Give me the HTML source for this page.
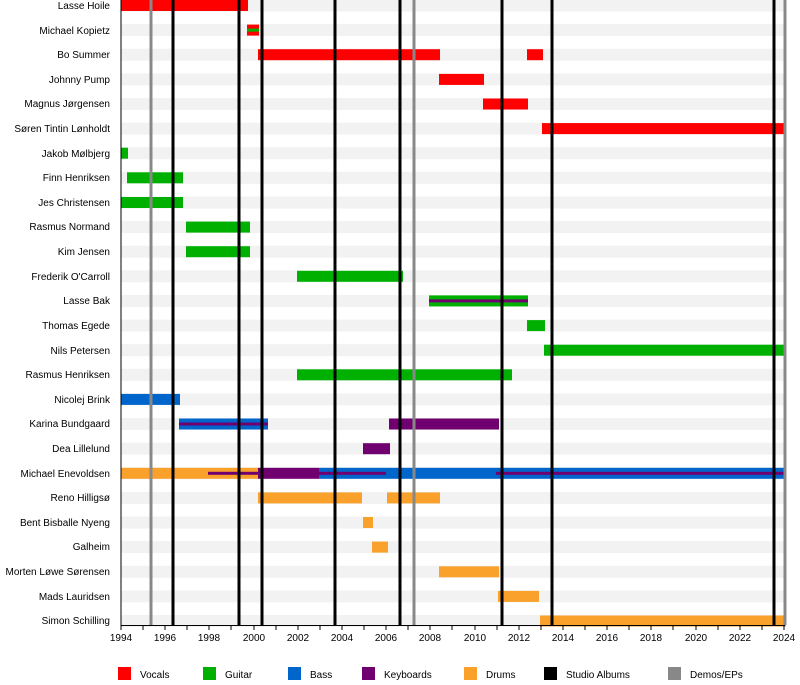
<!DOCTYPE html>
<html><head><meta charset="utf-8"><style>body{margin:0;background:#fff}svg{display:block;font-family:"Liberation Sans",sans-serif}</style></head><body>
<svg width="800" height="685" xmlns="http://www.w3.org/2000/svg">
<g fill="#f2f2f2">
<rect x="121" y="-0.5" width="665" height="12"/><rect x="121" y="24.1" width="665" height="12"/><rect x="121" y="48.7" width="665" height="12"/><rect x="121" y="73.4" width="665" height="12"/><rect x="121" y="98" width="665" height="12"/><rect x="121" y="122.6" width="665" height="12"/><rect x="121" y="147.2" width="665" height="12"/><rect x="121" y="171.8" width="665" height="12"/><rect x="121" y="196.5" width="665" height="12"/><rect x="121" y="221.1" width="665" height="12"/><rect x="121" y="245.7" width="665" height="12"/><rect x="121" y="270.3" width="665" height="12"/><rect x="121" y="294.9" width="665" height="12"/><rect x="121" y="319.6" width="665" height="12"/><rect x="121" y="344.2" width="665" height="12"/><rect x="121" y="368.8" width="665" height="12"/><rect x="121" y="393.4" width="665" height="12"/><rect x="121" y="418" width="665" height="12"/><rect x="121" y="442.7" width="665" height="12"/><rect x="121" y="467.3" width="665" height="12"/><rect x="121" y="491.9" width="665" height="12"/><rect x="121" y="516.5" width="665" height="12"/><rect x="121" y="541.1" width="665" height="12"/><rect x="121" y="565.8" width="665" height="12"/><rect x="121" y="590.4" width="665" height="12"/><rect x="121" y="615" width="665" height="12"/>
</g>
<g font-size="10" fill="#000" text-anchor="end">
<text x="110" y="9">Lasse Hoile</text><text x="110" y="34">Michael Kopietz</text><text x="110" y="58">Bo Summer</text><text x="110" y="83">Johnny Pump</text><text x="110" y="107">Magnus Jørgensen</text><text x="110" y="132">Søren Tintin Lønholdt</text><text x="110" y="157">Jakob Mølbjerg</text><text x="110" y="181">Finn Henriksen</text><text x="110" y="206">Jes Christensen</text><text x="110" y="230">Rasmus Normand</text><text x="110" y="255">Kim Jensen</text><text x="110" y="280">Frederik O'Carroll</text><text x="110" y="304">Lasse Bak</text><text x="110" y="329">Thomas Egede</text><text x="110" y="354">Nils Petersen</text><text x="110" y="378">Rasmus Henriksen</text><text x="110" y="403">Nicolej Brink</text><text x="110" y="427">Karina Bundgaard</text><text x="110" y="452">Dea Lillelund</text><text x="110" y="477">Michael Enevoldsen</text><text x="110" y="501">Reno Hilligsø</text><text x="110" y="526">Bent Bisballe Nyeng</text><text x="110" y="550">Galheim</text><text x="110" y="575">Morten Løwe Sørensen</text><text x="110" y="600">Mads Lauridsen</text><text x="110" y="624">Simon Schilling</text>
</g>
<g>
<rect x="121" y="0" width="127" height="11" fill="#f00"/>
<rect x="247" y="24.6" width="12" height="11" fill="#f00"/><rect x="247" y="28.6" width="12" height="3" fill="#00b000"/>
<rect x="258" y="49.2" width="182" height="11" fill="#f00"/><rect x="527" y="49.2" width="16" height="11" fill="#f00"/>
<rect x="439" y="73.9" width="45" height="11" fill="#f00"/>
<rect x="483" y="98.5" width="45" height="11" fill="#f00"/>
<rect x="542" y="123.1" width="244" height="11" fill="#f00"/>
<rect x="121" y="147.7" width="7" height="11" fill="#00b000"/>
<rect x="127" y="172.3" width="56" height="11" fill="#00b000"/>
<rect x="121" y="197" width="62" height="11" fill="#00b000"/>
<rect x="186" y="221.6" width="64" height="11" fill="#00b000"/>
<rect x="186" y="246.2" width="64" height="11" fill="#00b000"/>
<rect x="297" y="270.8" width="106" height="11" fill="#00b000"/>
<rect x="429" y="295.4" width="99" height="11" fill="#00b000"/><rect x="429" y="299.4" width="99" height="3" fill="#700070"/>
<rect x="527" y="320.1" width="18" height="11" fill="#00b000"/>
<rect x="544" y="344.7" width="242" height="11" fill="#00b000"/>
<rect x="297" y="369.3" width="215" height="11" fill="#00b000"/>
<rect x="121" y="393.9" width="59" height="11" fill="#0066cc"/>
<rect x="179" y="418.5" width="89" height="11" fill="#0066cc"/><rect x="179" y="422.5" width="89" height="3" fill="#700070"/>
<rect x="389" y="418.5" width="110" height="11" fill="#700070"/>
<rect x="363" y="443.2" width="27" height="11" fill="#700070"/>
<rect x="121" y="467.8" width="137" height="11" fill="#f9a12a"/><rect x="208" y="471.8" width="50" height="3" fill="#700070"/>
<rect x="258" y="467.8" width="61" height="11" fill="#700070"/>
<rect x="319" y="467.8" width="467" height="11" fill="#0066cc"/><rect x="319" y="471.8" width="67" height="3" fill="#700070"/><rect x="496" y="471.8" width="290" height="3" fill="#700070"/>
<rect x="258" y="492.4" width="104" height="11" fill="#f9a12a"/><rect x="387" y="492.4" width="53" height="11" fill="#f9a12a"/>
<rect x="363" y="517" width="10" height="11" fill="#f9a12a"/>
<rect x="372" y="541.6" width="16" height="11" fill="#f9a12a"/>
<rect x="439" y="566.3" width="60" height="11" fill="#f9a12a"/>
<rect x="498" y="590.9" width="41" height="11" fill="#f9a12a"/>
<rect x="540" y="615.5" width="246" height="11" fill="#f9a12a"/>
</g>
<g stroke-width="3">
<g stroke="#888"><line x1="151" y1="0" x2="151" y2="625"/><line x1="414" y1="0" x2="414" y2="625"/><line x1="785" y1="0" x2="785" y2="625"/></g>
<g stroke="#000"><line x1="173" y1="0" x2="173" y2="625"/><line x1="239" y1="0" x2="239" y2="625"/><line x1="262" y1="0" x2="262" y2="625"/><line x1="335" y1="0" x2="335" y2="625"/><line x1="400" y1="0" x2="400" y2="625"/><line x1="502" y1="0" x2="502" y2="625"/><line x1="552" y1="0" x2="552" y2="625"/><line x1="774" y1="0" x2="774" y2="625"/></g>
</g>
<line x1="121" y1="0" x2="121" y2="626" stroke="#000"/>
<line x1="121" y1="625.5" x2="785" y2="625.5" stroke="#000"/>
<g stroke="#000">
<path d="M121 625v5M143 625v5M165 625v5M187 625v5M209 625v5M231 625v5M254 625v5M276 625v5M298 625v5M320 625v5M342 625v5M364 625v5M386 625v5M408 625v5M430 625v5M452 625v5M475 625v5M497 625v5M519 625v5M541 625v5M563 625v5M585 625v5M607 625v5M629 625v5M651 625v5M673 625v5M696 625v5M718 625v5M740 625v5M762 625v5M784 625v5"/>
</g>
<g font-size="10" text-anchor="middle">
<text x="121" y="641">1994</text><text x="165" y="641">1996</text><text x="209" y="641">1998</text><text x="254" y="641">2000</text><text x="298" y="641">2002</text><text x="342" y="641">2004</text><text x="386" y="641">2006</text><text x="430" y="641">2008</text><text x="475" y="641">2010</text><text x="519" y="641">2012</text><text x="563" y="641">2014</text><text x="607" y="641">2016</text><text x="651" y="641">2018</text><text x="696" y="641">2020</text><text x="740" y="641">2022</text><text x="784" y="641">2024</text>
</g>
<g font-size="10">
<rect x="118" y="667" width="13" height="13" fill="#f00"/><text x="140" y="678">Vocals</text>
<rect x="203" y="667" width="13" height="13" fill="#00b000"/><text x="225" y="678">Guitar</text>
<rect x="288" y="667" width="13" height="13" fill="#0066cc"/><text x="310" y="678">Bass</text>
<rect x="362" y="667" width="13" height="13" fill="#700070"/><text x="384" y="678">Keyboards</text>
<rect x="464" y="667" width="13" height="13" fill="#f9a12a"/><text x="486" y="678">Drums</text>
<rect x="544" y="667" width="13" height="13" fill="#000"/><text x="566" y="678">Studio Albums</text>
<rect x="668" y="667" width="13" height="13" fill="#888"/><text x="690" y="678">Demos/EPs</text>
</g>
</svg>
</body></html>
